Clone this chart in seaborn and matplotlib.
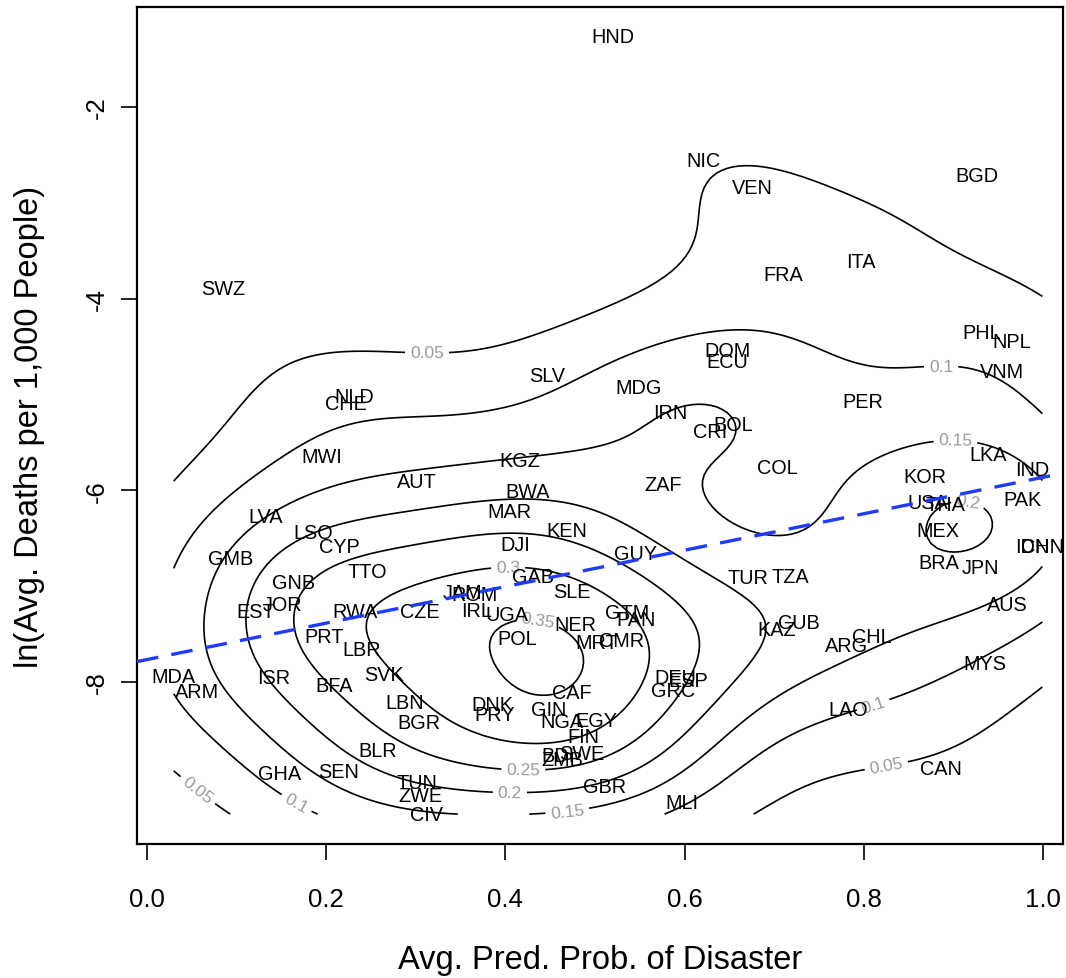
import numpy as np
import pandas as pd
import matplotlib
matplotlib.use("Agg")
import matplotlib.pyplot as plt
import seaborn as sns

countries = ["HND", "NIC", "VEN", "BGD", "SWZ", "FRA", "ITA", "PHL", "NPL", "VNM",
             "DOM", "ECU", "SLV", "MDG", "NLD", "CHE", "PER", "IRN", "BOL", "CRI",
             "LKA", "MWI", "KGZ", "COL", "IND", "KOR", "AUT", "ZAF", "BWA", "PAK",
             "USA", "THA", "MAR", "LVA", "KEN", "MEX", "LSO", "DJI", "IDN", "CHN",
             "CYP", "GUY", "GMB", "BRA", "JPN", "TTO", "GAB", "TZA", "TUR", "GNB",
             "SLE", "JAM", "ROM", "AUS", "JOR", "IRL", "EST", "RWA", "CZE", "GTM",
             "UGA", "PAN", "CUB", "NER", "KAZ", "PRT", "CHL", "POL", "CMR", "MRT",
             "ARG", "LBR", "MYS", "SVK", "MDA", "DEU", "ISR", "ESP", "BFA", "GRC",
             "ARM", "CAF", "LBN", "DNK", "GIN", "LAO", "PRY", "EGY", "NGA", "BGR",
             "FIN", "BLR", "SWE", "BDI", "ZMB", "CAN", "SEN", "GHA", "TUN", "GBR",
             "ZWE", "MLI", "CIV"]

pred_prob = [0.520, 0.621, 0.675, 0.926, 0.085, 0.710, 0.797, 0.931, 0.965, 0.954,
             0.648, 0.647, 0.446, 0.548, 0.231, 0.222, 0.799, 0.584, 0.654, 0.628,
             0.939, 0.195, 0.416, 0.703, 0.988, 0.868, 0.301, 0.576, 0.425, 0.977,
             0.871, 0.891, 0.405, 0.132, 0.468, 0.882, 0.186, 0.411, 0.988, 0.999,
             0.215, 0.545, 0.093, 0.883, 0.930, 0.246, 0.431, 0.718, 0.671, 0.164,
             0.474, 0.352, 0.366, 0.960, 0.151, 0.368, 0.122, 0.232, 0.305, 0.536,
             0.402, 0.546, 0.727, 0.478, 0.703, 0.198, 0.809, 0.413, 0.530, 0.502,
             0.781, 0.240, 0.935, 0.265, 0.030, 0.589, 0.142, 0.604, 0.209, 0.587,
             0.056, 0.474, 0.288, 0.385, 0.448, 0.782, 0.388, 0.502, 0.463, 0.304,
             0.487, 0.258, 0.485, 0.459, 0.463, 0.886, 0.214, 0.148, 0.301, 0.511,
             0.305, 0.597, 0.3125]

log_deaths = [-1.270, -2.563, -2.845, -2.710, -3.889, -3.753, -3.617, -4.348, -4.442, -4.765,
              -4.546, -4.651, -4.797, -4.932, -5.016, -5.099, -5.078, -5.193, -5.318, -5.391,
              -5.621, -5.652, -5.684, -5.757, -5.778, -5.851, -5.913, -5.934, -6.007, -6.091,
              -6.122, -6.143, -6.216, -6.278, -6.414, -6.424, -6.435, -6.560, -6.581, -6.591,
              -6.591, -6.654, -6.706, -6.748, -6.800, -6.842, -6.894, -6.894, -6.905, -6.957,
              -7.051, -7.061, -7.092, -7.186, -7.186, -7.249, -7.259, -7.259, -7.259, -7.270,
              -7.291, -7.343, -7.374, -7.405, -7.447, -7.520, -7.520, -7.551, -7.562, -7.583,
              -7.614, -7.656, -7.802, -7.917, -7.938, -7.948, -7.948, -7.979, -8.032, -8.084,
              -8.094, -8.105, -8.209, -8.230, -8.282, -8.282, -8.334, -8.397, -8.407, -8.418,
              -8.564, -8.710, -8.741, -8.762, -8.804, -8.898, -8.929, -8.950, -9.044, -9.085,
              -9.179, -9.252, -9.378]

contour_levels = [0.05, 0.10, 0.15, 0.20, 0.25, 0.30, 0.35]
x_ticks = [0.0, 0.2, 0.4, 0.6, 0.8, 1.0]
y_ticks = [-2, -4, -6, -8]

df = pd.DataFrame({"country": countries, "prob": pred_prob, "deaths": log_deaths})

# ---- 2D kernel density (MASS::kde2d style) ----
def bw_nrd(v):
    q1, q3 = np.quantile(v, [0.25, 0.75])
    return 4 * 1.06 * min(np.std(v, ddof=1), (q3 - q1) / 1.34) * len(v) ** (-0.2)

xv = df["prob"].to_numpy()
yv = df["deaths"].to_numpy()
hx, hy = bw_nrd(xv) / 4, bw_nrd(yv) / 4
ngrid = 150
gx = np.linspace(xv.min(), xv.max(), ngrid)
gy = np.linspace(yv.min(), yv.max(), ngrid)
phi = lambda u: np.exp(-0.5 * u ** 2) / np.sqrt(2 * np.pi)
kx = phi((gx[:, None] - xv[None, :]) / hx)
ky = phi((gy[:, None] - yv[None, :]) / hy)
z = kx @ ky.T / (len(xv) * hx * hy)

sns.set_theme(style="white")
plt.rcParams["font.family"] = ["Liberation Sans", "DejaVu Sans"]

fig = plt.figure(figsize=(10.66, 9.79), dpi=100)
ax = fig.add_axes([137 / 1066, 1 - 845 / 979, 926 / 1066, 837 / 979])
ax.set_xlim(-0.011, 1.022)
ax.set_ylim(-9.69, -0.957)

levels = [l for l in contour_levels if l <= z.max()]
cs = ax.contour(gx, gy, z.T, levels=levels, colors="black", linewidths=1.2)
label_pos = [(0.3125, -4.546), (0.886, -4.703), (0.902, -5.485), (0.915, -6.164),
             (0.403, -6.80), (0.435, -7.447), (0.420, -8.887), (0.405, -9.138),
             (0.469, -9.346), (0.810, -8.23), (0.825, -8.877), (0.056, -9.138),
             (0.167, -9.263)]
try:
    ax.clabel(cs, fmt=lambda v: f"{v:g}", colors="#9a9a9a", fontsize=12.5,
              inline=True, inline_spacing=5, manual=label_pos)
except Exception:
    ax.clabel(cs, fmt=lambda v: f"{v:g}", colors="#9a9a9a", fontsize=12.5, inline=True)

for _, r in df.iterrows():
    ax.text(r["prob"], r["deaths"], r["country"], ha="center", va="center",
            fontsize=14.3, color="black", zorder=4)

sns.regplot(data=df, x="prob", y="deaths", scatter=False, ci=None, truncate=False,
            ax=ax, line_kws=dict(color="#1f3bff", lw=2.4, ls=(0, (6.5, 4)), zorder=5))
ax.set_xlim(-0.011, 1.022)
ax.set_ylim(-9.69, -0.957)

ax.set_xticks(x_ticks)
ax.set_xticklabels([f"{t:.1f}" for t in x_ticks])
ax.set_yticks(y_ticks)
ax.set_yticklabels([str(t) for t in y_ticks], rotation=90, va="center")
ax.tick_params(axis="both", direction="out", length=11.5, width=1.2, colors="black",
               labelcolor="black", labelsize=18.5)
ax.tick_params(axis="x", pad=19.5, bottom=True)
ax.tick_params(axis="y", pad=8.5, left=True)
for s in ax.spines.values():
    s.set_color("black")
    s.set_linewidth(1.6)

ax.set_xlabel("Avg. Pred. Prob. of Disaster", fontsize=23.5, va="center", color="black")
ax.xaxis.set_label_coords(0.5, (845 - 961) / 837)
ax.set_ylabel("ln(Avg. Deaths per 1,000 People)", fontsize=23.5, va="center", color="black")
ax.yaxis.set_label_coords((30 - 137) / 926, 0.5)

fig.savefig("out.png", dpi=100)
